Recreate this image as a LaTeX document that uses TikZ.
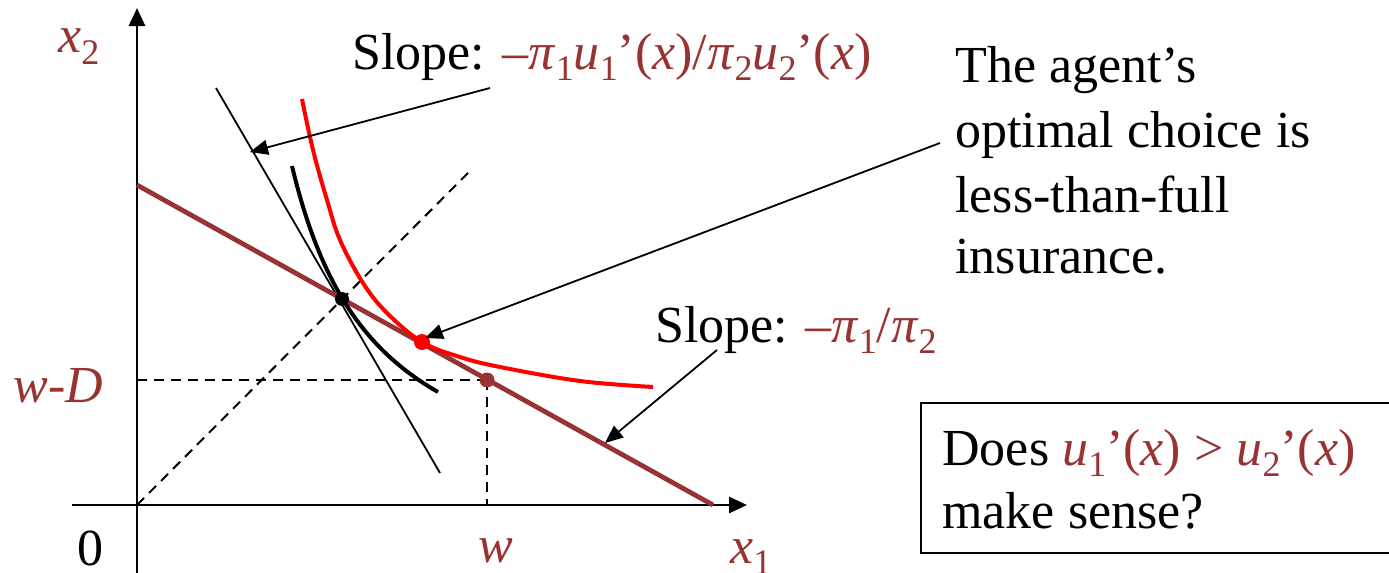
\documentclass[tikz,border=0pt]{standalone}
\usepackage{fontspec}
\setmainfont{Liberation Serif}
\usetikzlibrary{arrows.meta}
\definecolor{brn}{RGB}{153,51,51}
\definecolor{redc}{RGB}{255,0,0}
\newcommand{\sbs}[1]{\raisebox{-0.22em}{\fontsize{18}{18}\selectfont #1}}
\newcommand{\ital}[1]{\textit{#1}}
\begin{document}
\begin{tikzpicture}[x=0.5pt,y=-0.5pt,
  lbl/.style={anchor=base west, inner sep=0pt, font=\fontsize{26}{31.5}\selectfont},
  axisline/.style={line width=1.4pt, -{Triangle[length=9pt,width=8pt]}},
  ptr/.style={line width=0.9pt, -{Triangle[length=9pt,width=7.5pt]}},
  dashln/.style={line width=1pt, dash pattern=on 5pt off 3.5pt},
  budget/.style={brn, line width=2.4pt},
  dot/.style={circle, inner sep=0pt, minimum size=#1}
]
\useasboundingbox (0,0) rectangle (1389,573);

% axes
\coordinate (O) at (137,505);
\coordinate (Ytop) at (137,8);
\coordinate (Ybot) at (137,573);
\coordinate (Xl) at (72,505);
\coordinate (Xr) at (747,505);
\draw[axisline] (Ybot) -- (Ytop);
\draw[axisline] (Xl) -- (Xr);

% dashed guides
\coordinate (Dtop) at (468,173);
\coordinate (Wd) at (487,380);
\coordinate (WdL) at (137,380);
\coordinate (Wx) at (487,505);
\draw[dashln] (O) -- (Dtop);
\draw[dashln] (WdL) -- (Wd);
\draw[dashln] (Wd) -- (Wx);

% thin tangent line
\coordinate (T1) at (216,88);
\coordinate (T2) at (440,473);
\draw[line width=0.9pt] (T1) -- (T2);

% budget line
\coordinate (B1) at (137,185);
\coordinate (B2) at (713,505);
\draw[budget] (B1) -- (B2);

% black indifference curve
\draw[line width=2pt] plot[domain=155:301, samples=80] ({137+\x},{525.3 - 309.36/((\x-68.9)/100)});

% red indifference curve
\draw[redc, line width=2pt] plot[smooth, tension=0.6] coordinates {(302,99) (313,150) (327,200) (340,240) (363,283) (387,313) (422,342) (460,357) (500,367) (580,381) (653,387)};

% dots
\node[dot=7pt, fill=black] (P0) at (342,299) {};
\node[dot=8pt, fill=redc] (P1) at (422,342) {};
\node[dot=7.5pt, fill=brn] (P2) at (487,380) {};

% labels
\node[lbl, text=brn] (x2) at (58,53) {\ital{x}\sbs{2}};
\node[lbl, text=brn] (x1) at (730,563) {\ital{x}\sbs{1}};
\node[lbl] (zero) at (77,565) {0};
\node[lbl, text=brn] (w) at (478,562) {\ital{w}};
\node[lbl, text=brn] (wD) at (13,402) {\ital{w}-\ital{D}};

\node[lbl] (s1) at (352,69) {Slope: \textcolor{brn}{–\ital{π}\sbs{1}\ital{u}\sbs{1}’(\ital{x})/\ital{π}\sbs{2}\ital{u}\sbs{2}’(\ital{x})}};
\node[lbl] (s2) at (655,342) {Slope: \textcolor{brn}{–\ital{π}\sbs{1}/\ital{π}\sbs{2}}};

\node[lbl] (t1) at (955,83) {The agent’s};
\node[lbl] (t2) at (955,148) {optimal choice is};
\node[lbl] (t3) at (955,212) {less-than-full};
\node[lbl] (t4) at (955,273) {insurance.};

% question box
\coordinate (Q1) at (921,403);
\coordinate (Q2) at (1400,553);
\draw[line width=1pt] (Q1) rectangle (Q2);
\node[lbl] (q1) at (942,465) {Does \textcolor{brn}{\ital{u}\sbs{1}’(\ital{x}) > \ital{u}\sbs{2}’(\ital{x})}};
\node[lbl] (q2) at (942,528) {make sense?};

% pointer arrows
\coordinate (A1s) at (490,88);
\coordinate (A1e) at (250,152);
\coordinate (A2s) at (940,143);
\coordinate (A2e) at (425,338);
\coordinate (A3s) at (717,350);
\coordinate (A3e) at (605,443);
\draw[ptr] (A1s) -- (A1e);
\draw[ptr] (A2s) -- (A2e);
\draw[ptr] (A3s) -- (A3e);
\end{tikzpicture}
\end{document}
